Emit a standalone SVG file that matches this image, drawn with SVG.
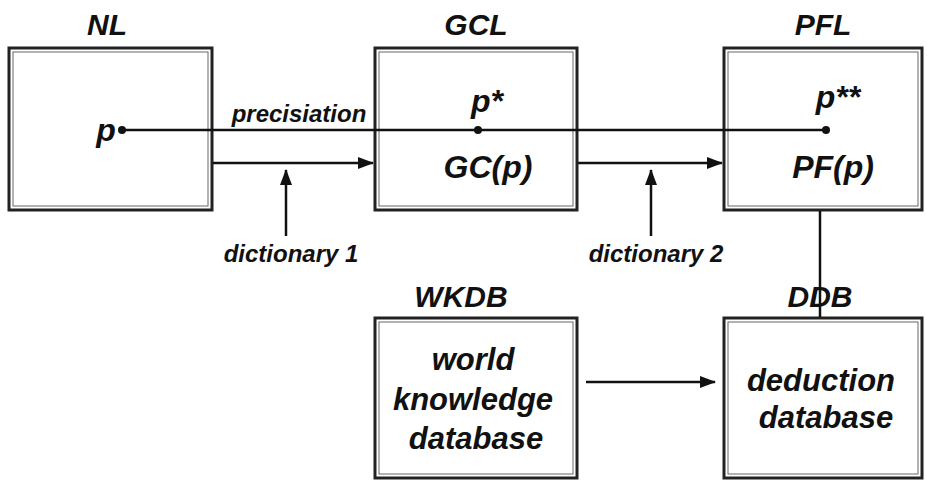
<svg xmlns="http://www.w3.org/2000/svg" width="927" height="480" viewBox="0 0 927 480">
<defs>
<marker id="ahb" markerWidth="16" markerHeight="12" refX="15" refY="6" orient="auto" markerUnits="userSpaceOnUse">
<path d="M0,0 L16,6 L0,12 Z" fill="#111"/>
</marker>
<style>
text{font-family:"Liberation Sans",Arial,sans-serif;font-weight:bold;font-style:italic;fill:#111;text-anchor:middle}
.title{font-size:30px}
.big{font-size:32px}
.body{font-size:31px}
.small{font-size:24px}
.outer{fill:#fff;stroke:#222;stroke-width:3}
.inner{fill:none;stroke:#666;stroke-width:1}
.ln{stroke:#111;stroke-width:2.5;fill:none}
</style>
</defs>
<rect width="927" height="480" fill="#fff"/>

<g id="NL">
<text class="title" x="107" y="35">NL</text>
<rect class="outer" x="9" y="48" width="203" height="162"/>
<rect class="inner" x="13" y="52" width="195" height="154"/>
<text class="big" x="106" y="141">p</text>
</g>

<g id="GCL">
<text class="title" x="476" y="35">GCL</text>
<rect class="outer" x="375" y="48" width="202" height="162"/>
<rect class="inner" x="379" y="52" width="194" height="154"/>
<text class="big" x="487" y="112">p*</text>
<text class="big" x="488" y="178">GC(p)</text>
</g>

<g id="PFL">
<text class="title" x="823" y="35">PFL</text>
<rect class="outer" x="724" y="48" width="198" height="162"/>
<rect class="inner" x="728" y="52" width="190" height="154"/>
<text class="big" x="838" y="108">p**</text>
<text class="big" x="833" y="178">PF(p)</text>
</g>

<g id="WKDB">
<text class="title" x="461" y="307">WKDB</text>
<rect class="outer" x="375" y="318" width="202" height="160"/>
<rect class="inner" x="379" y="322" width="194" height="152"/>
<text class="body" x="473" y="370">world</text>
<text class="body" x="473" y="410">knowledge</text>
<text class="body" x="476" y="449">database</text>
</g>

<g id="DDB">
<text class="title" x="820" y="307">DDB</text>
<rect class="outer" x="724" y="318" width="198" height="160"/>
<rect class="inner" x="728" y="322" width="190" height="152"/>
<text class="body" x="821" y="391">deduction</text>
<text class="body" x="826" y="428">database</text>
</g>

<g id="labels">
<text class="small" x="299" y="122">precisiation</text>
<text class="small" x="291" y="262">dictionary 1</text>
<text class="small" x="656" y="262">dictionary 2</text>
</g>

<g id="connectors">
<line class="ln" x1="122" y1="130" x2="826" y2="130" stroke-width="2"/>
<circle cx="122" cy="130" r="4" fill="#111"/>
<circle cx="478" cy="130" r="4" fill="#111"/>
<circle cx="826" cy="130" r="4" fill="#111"/>
<line class="ln" x1="213" y1="163" x2="373" y2="163" marker-end="url(#ahb)"/>
<line class="ln" x1="578" y1="163" x2="722" y2="163" marker-end="url(#ahb)"/>
<line class="ln" x1="286" y1="236" x2="286" y2="170" marker-end="url(#ahb)"/>
<line class="ln" x1="651" y1="236" x2="651" y2="170" marker-end="url(#ahb)"/>
<line class="ln" x1="820" y1="211" x2="820" y2="317"/>
<line class="ln" x1="586" y1="382" x2="715" y2="382" marker-end="url(#ahb)"/>
</g>
</svg>
